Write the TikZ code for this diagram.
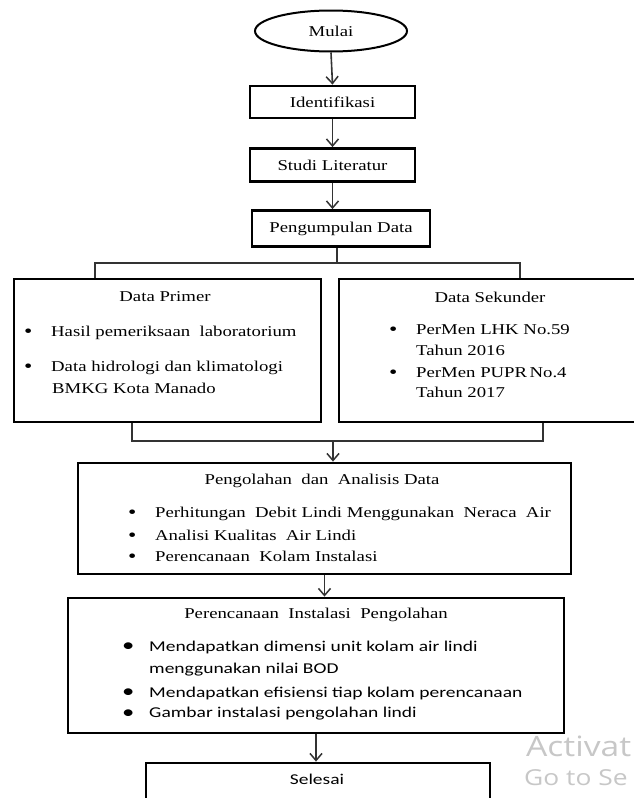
\documentclass[tikz,border=0pt]{standalone}
\usepackage{fontspec}
\setmainfont{Liberation Serif}[FakeStretch=1.25]
\newfontfamily\calfont{Carlito}[FakeStretch=1.3]
\newfontfamily\winfont{Open Sans}[FakeStretch=1.2]
\usetikzlibrary{arrows.meta, shapes.geometric}

\tikzset{
  box/.style={draw, line width=2.8pt, rectangle, inner sep=0pt},
  txt/.style={inner sep=0pt, font=\fontsize{15}{18}\selectfont},
  item/.style={txt, anchor=west},
  calitem/.style={item, font=\calfont\fontsize{15}{18}\selectfont},
  link/.style={line width=1.6pt, draw=black!80},
  arr/.style={link, -{Straight Barb[length=7pt,width=12pt,line width=1.5pt]}}
}

\newcommand{\bul}[1]{\makebox[27pt][l]{\raisebox{-0.5pt}{\fontsize{19}{19}\selectfont\textbullet}}#1}

\begin{document}
\begin{tikzpicture}[x=1pt, y=-1pt]
    \useasboundingbox (0,0) rectangle (633,798); % page size of the reference
    \fill[white] (0,0) rectangle (633,798);

    % the steps from top to bottom
    \node[draw, ellipse, line width=2pt, minimum width=152pt, minimum height=41pt, inner sep=0pt] (mulai) at (331,31) {};
    \node[box, minimum width=165pt, minimum height=32pt] (ident) at (332.5,102) {};
    \node[box, minimum width=165pt, minimum height=33pt] (studi) at (332.5,165) {};
    \node[box, minimum width=178pt, minimum height=36pt] (kumpul) at (341,228.5) {};
    \node[box, minimum width=307pt, minimum height=143pt] (prim) at (167.5,350.5) {};
    \node[box, minimum width=321pt, minimum height=143pt] (sek) at (499.5,350.5) {}; % runs off the right edge
    \node[box, minimum width=493pt, minimum height=111pt] (olah) at (324.5,518.5) {};
    \node[box, minimum width=496pt, minimum height=135pt] (rencana) at (316,665.5) {};
    \node[box, minimum width=344pt, minimum height=77pt] (selesai) at (318,801.5) {}; % runs off the bottom edge

    % texts of the steps
    \node[txt] (tmulai) at (331,31) {Mulai};
    \node[txt] (tident) at (332.5,102) {Identifikasi};
    \node[txt] (tstudi) at (332.5,165) {Studi Literatur};
    \node[txt] (tkumpul) at (341,228.5) {Pengumpulan Data};

    \node[txt] (tprim) at (165,297) {Data Primer};
    \node[item] (prim1) at (24,333) {\bul{Hasil pemeriksaan\ \ laboratorium}};
    \node[item] (prim2) at (24,368) {\bul{Data hidrologi dan klimatologi}};
    \node[item] (prim3) at (52,388) {BMKG Kota Manado};

    \node[txt] (tsek) at (490,297) {Data Sekunder};
    \node[item] (sek1) at (389,330) {\bul{PerMen LHK No.59}};
    \node[item] (sek2) at (416,350) {Tahun 2016};
    \node[item] (sek3) at (389,373) {\bul{PerMen PUPR\,No.4}};
    \node[item] (sek4) at (416,392) {Tahun 2017};

    \node[txt] (tolah) at (322,481) {Pengolahan\ \ dan\ \ Analisis Data};
    \node[item] (olah1) at (128,514) {\bul{Perhitungan\ \ Debit Lindi Menggunakan\ \ Neraca\ \ Air}};
    \node[item] (olah2) at (128,536) {\bul{Analisi Kualitas\ \ Air Lindi}};
    \node[item] (olah3) at (128,557) {\bul{Perencanaan\ \ Kolam Instalasi}};

    \node[txt] (trencana) at (316,615) {Perencanaan\ \ Instalasi\ \ Pengolahan};
    \node[calitem] (rencana1) at (122,647) {\bul{Mendapatkan dimensi unit kolam air lindi}};
    \node[calitem] (rencana2) at (149,670) {menggunakan nilai BOD};
    \node[calitem] (rencana3) at (122,693) {\bul{Mendapatkan efisiensi tiap kolam perencanaan}};
    \node[calitem] (rencana4) at (122,714) {\bul{Gambar instalasi pengolahan lindi}};

    \node[txt, font=\calfont\fontsize{15}{18}\selectfont] (tselesai) at (317,779) {Selesai};

    % arrows down the middle
    \draw[arr] (mulai.south) -- (ident.north);
    \draw[arr] (ident.south) -- (studi.north);
    \draw[arr] (studi.south) -- (studi.south |- kumpul.north);

    % split into the two data boxes
    \coordinate (split) at (337,263);
    \coordinate (splitL) at (95,263);
    \coordinate (splitR) at (520,263);
    \draw[link] (kumpul.south -| split) -- (split);
    \draw[link] (splitL |- prim.north) -- (splitL) -- (splitR) -- (splitR |- sek.north);

    % join them again
    \coordinate (join) at (333,441);
    \coordinate (joinL) at (132,441);
    \coordinate (joinR) at (543,441);
    \draw[link] (joinL |- prim.south) -- (joinL) -- (joinR) -- (joinR |- sek.south);
    \draw[arr] (join) -- (join |- olah.north);

    \draw[arr] (olah.south) -- (olah.south |- rencana.north);
    \draw[arr] (rencana.south) -- (rencana.south |- selesai.north);

    % windows watermark, cut by the screen edge
    \node[anchor=west, inner sep=0pt, text=black!22, font=\winfont\fontsize{28}{30}\selectfont] (wact) at (526,746) {Activat};
    \node[anchor=west, inner sep=0pt, text=black!22, font=\winfont\fontsize{22}{24}\selectfont] (wgo) at (524,778) {Go to Se};
\end{tikzpicture}
\end{document}
